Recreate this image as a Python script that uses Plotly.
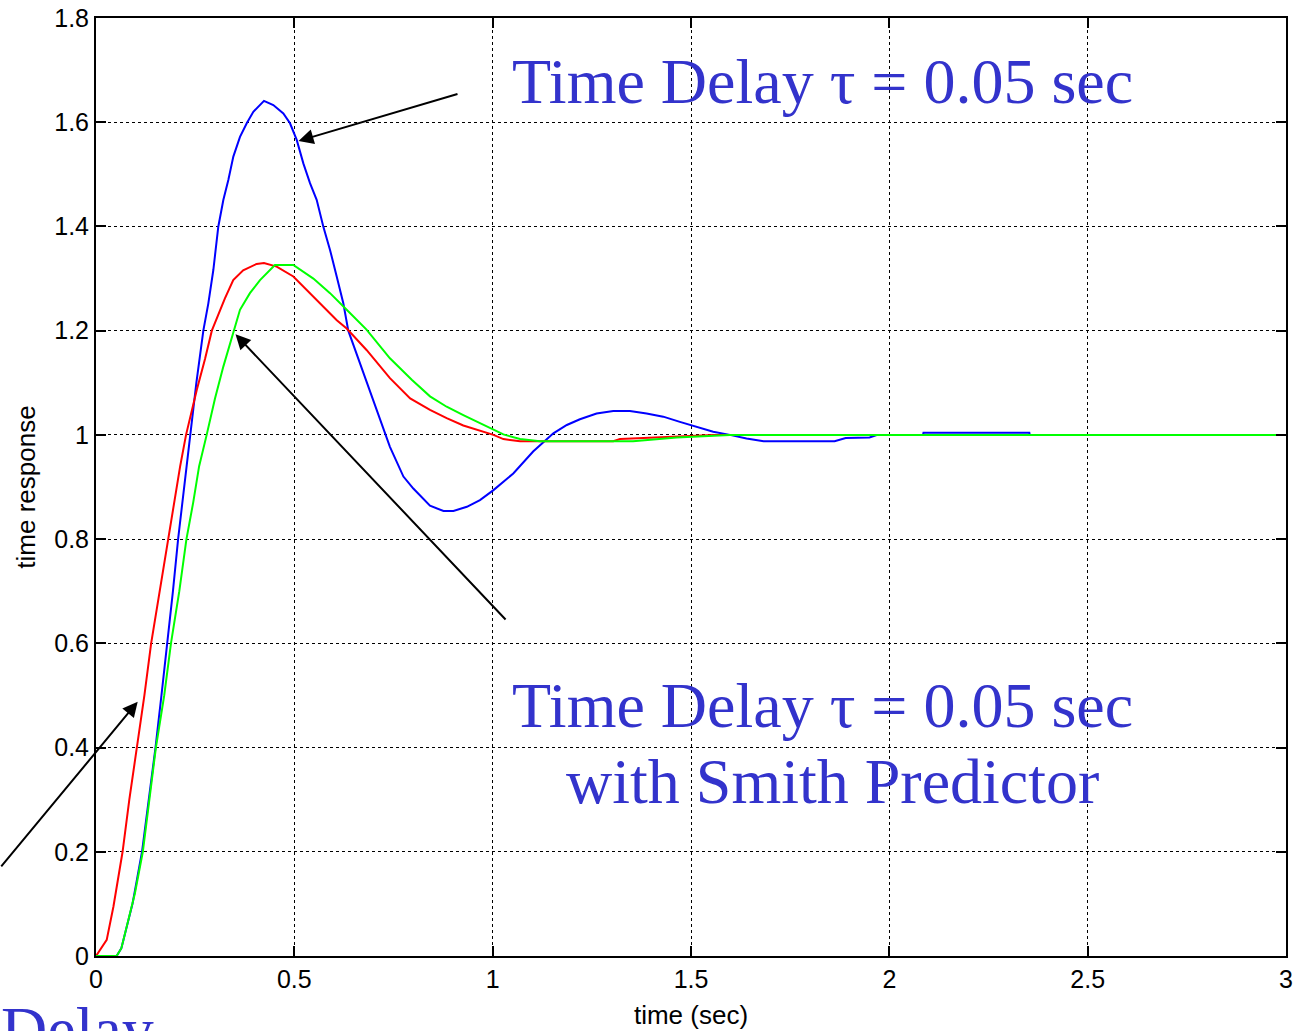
import plotly.graph_objects as go

# ---- data ----
t_red = [0, 0.010, 0.027, 0.044, 0.056, 0.067, 0.084, 0.103, 0.122, 0.139,
         0.160, 0.181, 0.196, 0.212, 0.227, 0.254, 0.275, 0.292, 0.325, 0.346,
         0.371, 0.405, 0.4235, 0.4555, 0.4975, 0.5395, 0.607, 0.632, 0.682, 0.741,
         0.792, 0.842, 0.884, 0.926, 0.968, 1.002, 1.027, 1.069, 1.200, 1.304,
         1.321, 1.413, 1.556, 1.650, 2.000, 3.000]
y_red = [0, 0.011, 0.031, 0.095, 0.146, 0.200, 0.300, 0.400, 0.500, 0.600,
         0.700, 0.800, 0.870, 0.939, 1.000, 1.086, 1.146, 1.200, 1.262, 1.297,
         1.316, 1.328, 1.330, 1.323, 1.304, 1.272, 1.220, 1.204, 1.163, 1.109,
         1.070, 1.048, 1.032, 1.018, 1.008, 1.000, 0.992, 0.988, 0.988, 0.988,
         0.992, 0.995, 1.000, 1.000, 1.000, 1.000]

t_grn = [0, 0.052, 0.064, 0.077, 0.098, 0.118, 0.135, 0.151, 0.172, 0.189,
         0.210, 0.228, 0.245, 0.260, 0.279, 0.300, 0.321, 0.342, 0.363, 0.388,
         0.4135, 0.451, 0.4975, 0.548, 0.590, 0.632, 0.682, 0.741, 0.796, 0.842,
         0.884, 0.926, 0.968, 1.002, 1.027, 1.069, 1.119, 1.354, 1.464, 1.598,
         2.000, 3.000]
y_grn = [0, 0, 0.015, 0.056, 0.120, 0.200, 0.300, 0.400, 0.500, 0.600,
         0.700, 0.800, 0.870, 0.940, 1.000, 1.070, 1.131, 1.188, 1.240, 1.272,
         1.297, 1.326, 1.326, 1.300, 1.272, 1.240, 1.202, 1.147, 1.106, 1.074,
         1.054, 1.038, 1.022, 1.009, 1.001, 0.992, 0.988, 0.988, 0.995, 1.000,
         1.000, 1.000]

t_blu = [0, 0.052, 0.064, 0.077, 0.092, 0.104, 0.116, 0.133, 0.150, 0.165,
         0.180, 0.194, 0.207, 0.222, 0.237, 0.253, 0.2706, 0.2832, 0.2958, 0.3084,
         0.321, 0.3336, 0.3462, 0.363, 0.380, 0.3966, 0.4235, 0.447, 0.4723, 0.4891,
         0.506, 0.5227, 0.5395, 0.5563, 0.573, 0.590, 0.6068, 0.6235, 0.636, 0.716,
         0.730, 0.741, 0.775, 0.800, 0.842, 0.876, 0.901, 0.935, 0.968, 1.002,
         1.052, 1.102, 1.153, 1.187, 1.220, 1.262, 1.304, 1.346, 1.388, 1.430,
         1.472, 1.514, 1.556, 1.598, 1.640, 1.683, 1.862, 1.890, 1.950, 1.970,
         2.085, 2.086, 2.353, 2.354, 3.000]
y_blu = [0, 0, 0.015, 0.056, 0.100, 0.150, 0.200, 0.300, 0.400, 0.500,
         0.600, 0.700, 0.800, 0.900, 1.000, 1.100, 1.200, 1.2525, 1.3164, 1.400,
         1.4508, 1.489, 1.534, 1.572, 1.598, 1.620, 1.641, 1.633, 1.617, 1.598,
         1.566, 1.521, 1.483, 1.451, 1.400, 1.355, 1.304, 1.2525, 1.200, 1.031,
         1.000, 0.977, 0.920, 0.897, 0.864, 0.854, 0.854, 0.862, 0.875, 0.894,
         0.926, 0.968, 1.003, 1.019, 1.030, 1.041, 1.046, 1.046, 1.041, 1.035,
         1.025, 1.016, 1.006, 1.000, 0.993, 0.988, 0.988, 0.994, 0.995, 1.000,
         1.000, 1.004, 1.004, 1.000, 1.000]

x_ticks = [0, 0.5, 1, 1.5, 2, 2.5, 3]
y_ticks = [0, 0.2, 0.4, 0.6, 0.8, 1.0, 1.2, 1.4, 1.6, 1.8]

label_main = "Time Delay \u03c4 = 0.05 sec"
label_smith = "with Smith Predictor"
label_delay = "Delay"
x_title = "time (sec)"
y_title = "time response"

# ---- figure ----
fig = go.Figure()
fig.add_trace(go.Scatter(x=t_blu, y=y_blu, mode="lines",
                         line=dict(color="#0000FF", width=2), showlegend=False))
fig.add_trace(go.Scatter(x=t_red, y=y_red, mode="lines",
                         line=dict(color="#FF0000", width=2), showlegend=False))
fig.add_trace(go.Scatter(x=t_grn, y=y_grn, mode="lines",
                         line=dict(color="#00FF00", width=2), showlegend=False))

axis_common = dict(
    showgrid=True, gridcolor="black", griddash="dot", gridwidth=1,
    showline=True, linecolor="black", linewidth=2, mirror="ticks",
    ticks="inside", ticklen=10, tickcolor="black", tickwidth=2,
    zeroline=False, automargin=False,
    tickfont=dict(family="Liberation Sans, Arial", size=25, color="black"),
)

fig.update_xaxes(range=[0, 3], tickvals=x_ticks,
                 title=dict(text=x_title, standoff=14,
                            font=dict(family="Liberation Sans, Arial", size=26, color="black")),
                 **axis_common)
fig.update_yaxes(range=[0, 1.8], tickvals=y_ticks,
                 title=dict(text=y_title, standoff=11,
                            font=dict(family="Liberation Sans, Arial", size=26, color="black")),
                 **axis_common)

serif = dict(family="Liberation Serif, Times New Roman", size=64, color="#3333CC")
annotations = [
    dict(text=label_main, xref="paper", yref="paper", x=0.6105, y=0.9324,
         xanchor="center", yanchor="middle", showarrow=False, font=serif),
    dict(text=label_main, xref="paper", yref="paper", x=0.6105, y=0.2672,
         xanchor="center", yanchor="middle", showarrow=False, font=serif),
    dict(text=label_smith, xref="paper", yref="paper", x=0.6185, y=0.1861,
         xanchor="center", yanchor="middle", showarrow=False, font=serif),
    dict(text=label_delay, xref="paper", yref="paper", x=-0.0815, y=-0.0788,
         xanchor="left", yanchor="middle", showarrow=False, font=serif),
]
arrows = [
    ((0.5105, 1.564), (0.9151, 1.655)),
    ((0.3517, 1.193), (1.0361, 0.6429)),
    ((0.1051, 0.488), (-0.242, 0.1689)),
]
for (hx, hy), (tx, ty) in arrows:
    annotations.append(dict(text="", x=hx, y=hy, ax=tx, ay=ty,
                            xref="x", yref="y", axref="x", ayref="y",
                            showarrow=True, arrowhead=2, arrowsize=1.5,
                            arrowwidth=2, arrowcolor="black", standoff=0))

fig.update_layout(
    width=1296, height=1031,
    margin=dict(l=96, r=10, t=18, b=75),
    plot_bgcolor="white", paper_bgcolor="white",
    annotations=annotations,
)

fig.write_html("out.html")
